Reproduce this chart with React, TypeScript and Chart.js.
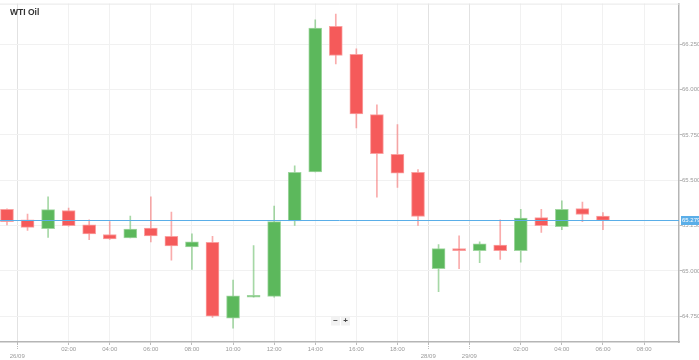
import React, { useEffect, useRef } from 'react';
import { Chart, registerables } from 'chart.js';

Chart.register(...registerables);

const TITLE = 'WTI Oil';

// hourly candles, indexed by slot
const opens = [65.340, 65.282, 65.233, 65.333, 65.254, 65.201, 65.182, 65.236, 65.190, 65.132,
  65.158, 64.739, 64.855, 64.860, 65.275, 65.546, 66.348, 66.194, 65.862, 65.643,
  65.543, 65.012, 65.118, 65.112, 65.143, 65.112, 65.294, 65.244, 65.344, 65.303];
const highs = [65.342, 65.313, 65.409, 65.346, 65.282, 65.272, 65.303, 65.409, 65.324, 65.204,
  65.190, 64.950, 65.140, 65.358, 65.579, 66.385, 66.416, 66.224, 65.916, 65.807,
  65.559, 65.145, 65.194, 65.160, 65.282, 65.340, 65.340, 65.387, 65.379, 65.322];
const lows = [65.254, 65.223, 65.185, 65.247, 65.172, 65.174, 65.182, 65.160, 65.059, 65.008,
  64.744, 64.684, 64.855, 64.855, 65.251, 65.546, 66.142, 65.789, 65.406, 65.461,
  65.251, 64.886, 65.012, 65.045, 65.063, 65.048, 65.212, 65.227, 65.272, 65.227];
const closes = [65.272, 65.240, 65.338, 65.249, 65.204, 65.176, 65.231, 65.193, 65.138, 65.161,
  64.750, 64.862, 64.866, 65.272, 65.543, 66.339, 66.188, 65.865, 65.647, 65.539,
  65.300, 65.123, 65.112, 65.150, 65.112, 65.291, 65.249, 65.340, 65.311, 65.279];

const tickSlots = [0.5, 3, 5, 7, 9, 11, 13, 15, 17, 19, 20.5, 22.5, 25, 27, 29, 31];
const tickLabels = ['26/09', '02:00', '04:00', '06:00', '08:00', '10:00', '12:00', '14:00',
  '16:00', '18:00', '28/09', '29/09', '02:00', '04:00', '06:00', '08:00'];

const currentPrice = 65.279;
const X_MIN = -0.34;
const X_MAX = 32.7;
const Y_MIN = 64.608;
const Y_MAX = 66.474;
const Y_STEP = 0.25;

const UP = 'rgb(92,184,92)';
const DOWN = 'rgb(245,90,90)';
const UP_WICK = 'rgba(92,184,92,0.55)';
const DOWN_WICK = 'rgba(245,90,90,0.5)';
const PRICE_BLUE = '#5aaee8';

export default function App() {
  const ref = useRef<HTMLCanvasElement | null>(null);

  useEffect(() => {
    if (!ref.current) return;
    const isUp = opens.map((o, i) => closes[i] >= o);

    const overlay = {
      id: 'overlay',
      beforeDatasetsDraw(chart: any) {
        const { ctx, chartArea } = chart;
        ctx.save();
        ctx.strokeStyle = '#e8e8e8';
        ctx.lineWidth = 1;
        ctx.beginPath();
        ctx.moveTo(chartArea.left, chartArea.top + 0.5);
        ctx.lineTo(chartArea.right, chartArea.top + 0.5);
        ctx.stroke();
        ctx.restore();
      },
      afterDraw(chart: any) {
        const { ctx, chartArea, scales } = chart;
        const y = Math.round(scales.y.getPixelForValue(currentPrice)) + 0.5;
        ctx.save();
        // price line
        ctx.strokeStyle = PRICE_BLUE;
        ctx.lineWidth = 1;
        ctx.beginPath();
        ctx.moveTo(chartArea.left, y);
        ctx.lineTo(chartArea.right, y);
        ctx.stroke();
        // badge
        ctx.fillStyle = PRICE_BLUE;
        ctx.fillRect(chartArea.right + 2, y - 4.5, 18, 9);
        ctx.fillStyle = '#ffffff';
        ctx.font = '6px "Liberation Sans", Arial, sans-serif';
        ctx.textAlign = 'left';
        ctx.textBaseline = 'middle';
        ctx.fillText(currentPrice.toFixed(3), chartArea.right + 3, y);
        // date tick marks (dotted)
        ctx.strokeStyle = '#bbbbbb';
        ctx.setLineDash([1, 1]);
        tickSlots.forEach((s, i) => {
          if (tickLabels[i].includes('/')) {
            const x = Math.round(scales.x.getPixelForValue(s)) + 0.5;
            ctx.beginPath();
            ctx.moveTo(x, chartArea.bottom);
            ctx.lineTo(x, chartArea.bottom + 8);
            ctx.stroke();
          }
        });
        ctx.setLineDash([]);
        // title
        ctx.fillStyle = '#333333';
        ctx.font = 'bold 8.5px "Liberation Sans", Arial, sans-serif';
        ctx.textBaseline = 'middle';
        ctx.fillText(TITLE, 10, 12.5);
        // zoom controls
        const cx = 338;
        const cy = 321;
        ctx.fillStyle = '#f2f2f2';
        ctx.fillRect(cx - 7, cy - 4.5, 9, 9);
        ctx.fillRect(cx + 3, cy - 4.5, 9, 9);
        ctx.fillStyle = '#444444';
        ctx.font = 'bold 8px "Liberation Sans", Arial, sans-serif';
        ctx.textAlign = 'center';
        ctx.fillText('−', cx - 2.5, cy);
        ctx.fillText('+', cx + 7.5, cy);
        ctx.restore();
      },
    };

    const chart = new Chart(ref.current, {
      type: 'bar',
      data: {
        datasets: [
          {
            label: 'wicks',
            data: lows.map((l, i) => ({ x: i, y: [l, highs[i]] })) as any,
            backgroundColor: isUp.map((u) => (u ? UP_WICK : DOWN_WICK)),
            borderWidth: 0,
            barThickness: 1,
            grouped: false,
            order: 2,
          },
          {
            label: 'bodies',
            data: opens.map((o, i) => ({ x: i, y: [o, closes[i]] })) as any,
            backgroundColor: isUp.map((u) => (u ? UP : DOWN)),
            borderColor: isUp.map((u) => (u ? 'rgba(150,210,150,0.9)' : 'rgba(250,150,150,0.9)')),
            borderWidth: 1,
            borderSkipped: false,
            barThickness: 13,
            minBarLength: 2,
            grouped: false,
            order: 1,
          },
        ],
      } as any,
      options: {
        responsive: false,
        animation: false,
        layout: { padding: { top: 2, left: 0, right: 0, bottom: 0 } },
        plugins: { legend: { display: false }, tooltip: { enabled: false }, title: { display: false } },
        scales: {
          x: {
            type: 'linear',
            min: X_MIN,
            max: X_MAX,
            offset: false,
            afterBuildTicks: (scale: any) => {
              scale.ticks = tickSlots.map((v) => ({ value: v }));
            },
            afterFit: (scale: any) => {
              scale.height = 18;
            },
            grid: {
              offset: false,
              color: (c: any) => {
                const idx = c.index;
                return tickLabels[idx] && tickLabels[idx].includes('/') ? '#e2e2e2' : '#f1f1f1';
              },
              tickColor: '#bbbbbb',
              tickLength: 3,
            },
            border: { display: true, color: '#b5b5b5', width: 1.5 },
            ticks: {
              autoSkip: false,
              maxRotation: 0,
              padding: 1,
              color: '#9a9a9a',
              font: { size: 6, family: '"Liberation Sans", Arial, sans-serif', lineHeight: 1.15 },
              callback: (_v: any, i: number) => {
                const l = tickLabels[i];
                return l.includes('/') ? ['', l] : l;
              },
            },
          },
          y: {
            type: 'linear',
            position: 'right',
            min: Y_MIN,
            max: Y_MAX,
            beginAtZero: false,
            afterFit: (scale: any) => {
              scale.width = 20;
            },
            grid: { color: '#f1f1f1', tickColor: '#bbbbbb', tickLength: 3 },
            border: { display: true, color: '#b5b5b5', width: 1.5 },
            ticks: {
              stepSize: Y_STEP,
              includeBounds: false,
              padding: 0,
              color: '#9a9a9a',
              font: { size: 6, family: '"Liberation Sans", Arial, sans-serif' },
              callback: (v: any) => Number(v).toFixed(3),
            },
          },
        },
      } as any,
      plugins: [overlay],
    });
    return () => chart.destroy();
  }, []);

  return (
    <div style={{ position: 'fixed', left: 0, top: 0, width: 699, height: 360, background: '#fff' }}>
      <canvas ref={ref} width={699} height={360} style={{ display: 'block', width: 699, height: 360 }} />
    </div>
  );
}
